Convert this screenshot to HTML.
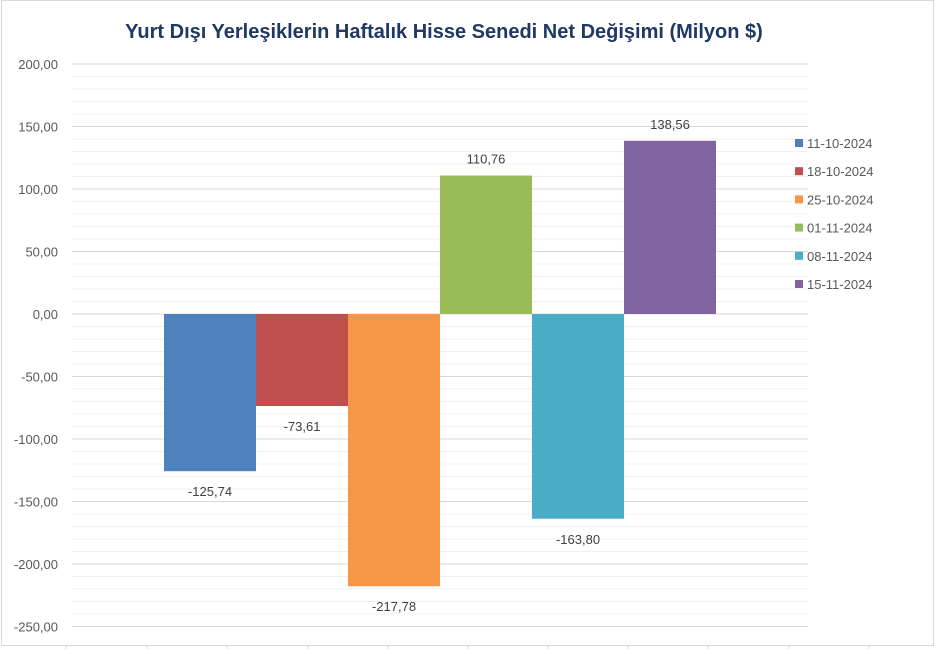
<!DOCTYPE html>
<html><head><meta charset="utf-8"><style>
body{margin:0;background:#fff;width:938px;height:649px;overflow:hidden;font-family:"Liberation Sans",sans-serif}
</style></head><body>
<svg id="c" width="938" height="649" xmlns="http://www.w3.org/2000/svg">
<text x="444" y="38" text-anchor="middle" font-size="20" font-weight="bold" fill="#1f3864">Yurt Dışı Yerleşiklerin Haftalık Hisse Senedi Net Değişimi (Milyon $)</text>
</svg>
<script>
const categories=["11-10-2024","18-10-2024","25-10-2024","01-11-2024","08-11-2024","15-11-2024"];
const values=[-125.74,-73.61,-217.78,110.76,-163.80,138.56];
const labels=["-125,74","-73,61","-217,78","110,76","-163,80","138,56"];
const colors=["#4f81bd","#c0504d","#f79646","#9bbb59","#4bacc6","#8064a2"];
const ticks=[200,150,100,50,0,-50,-100,-150,-200,-250];
const tickLabels=["200,00","150,00","100,00","50,00","0,00","-50,00","-100,00","-150,00","-200,00","-250,00"];
const svg=document.getElementById('c');
const NS="http://www.w3.org/2000/svg";
const y=v=>314-v*1.25;
const x0=72,x1=808,barStart=164,bw=92;
function mk(t,a){const e=document.createElementNS(NS,t);for(const k in a)e.setAttribute(k,a[k]);svg.appendChild(e);return e;}
// frame
const fr=mk('rect',{x:1.5,y:0.5,width:932,height:645,fill:'none',stroke:'#d9d9d9'});


[66,147,227,308,388,468,548,628,708,789,869].forEach(tx=>{const l=mk('line',{x1:tx,x2:tx,y1:645,y2:649,stroke:'#d9d9d9'});

});
// minor grid
for(let v=-250;v<=200;v+=10){if(v%50===0)continue;const l=mk('line',{x1:x0,x2:x1,y1:y(v),y2:y(v),stroke:'#f0f0f0'});

}
ticks.forEach((t,i)=>{const l=mk('line',{x1:x0,x2:x1,y1:y(t),y2:y(t),stroke:'#d9d9d9'});


const tx=mk('text',{x:58,y:y(t)+5,'text-anchor':'end','font-size':13,fill:'#595959'});tx.textContent=tickLabels[i];

});
values.forEach((v,i)=>{const bx=barStart+i*bw;const top=Math.min(y(0),y(v)),h=Math.abs(y(v)-y(0));
const r=mk('rect',{x:bx,y:top,width:bw,height:h,fill:colors[i]});


const ly=v<0?y(v)+25:y(v)-12;
const t=mk('text',{x:bx+bw/2,y:ly,'text-anchor':'middle','font-size':13,fill:'#404040'});t.textContent=labels[i];


const ry=143+i*28.2;
const m=mk('rect',{x:795,y:ry-4,width:8,height:8,fill:colors[i]});


const lt=mk('text',{x:807,y:ry+5,'font-size':13,fill:'#595959'});lt.textContent=categories[i];

});
</script>
</body></html>
